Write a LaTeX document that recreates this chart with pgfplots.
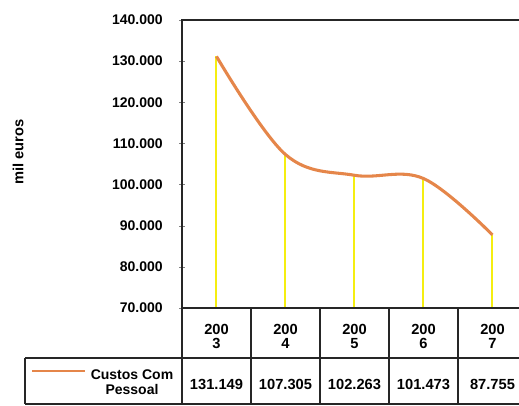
\documentclass[border=0pt]{standalone}
\usepackage{pgfplots}
\pgfplotsset{compat=1.18}
\usepackage{pgfplotstable}
\usepackage{fontspec}
\setmainfont{Liberation Sans}
\definecolor{lineorange}{HTML}{E5864A}
\definecolor{dropyellow}{HTML}{F5EE10}
\pgfplotstableread{
x y
0 131149
1 107305
2 102263
3 101473
4 87755
}\custos
\begin{document}
\begin{tikzpicture}
\useasboundingbox (0,0) rectangle (389.25pt,303.75pt);
\clip (0,0) rectangle (389.25pt,303.75pt);
\begin{axis}[
  at={(136.5pt,72.75pt)}, anchor=south west,
  scale only axis, width=258.75pt, height=216pt,
  xmin=-0.5, xmax=4.5, ymin=70000, ymax=140000,
  scaled y ticks=false,
  ytick={70000,80000,...,140000},
  yticklabels={70.000,80.000,90.000,100.000,110.000,120.000,130.000,140.000},
  yticklabel style={font=\bfseries\fontsize{10.5}{12}\selectfont, xshift=-9pt},
  xtick={0,1,2,3,4},
  xticklabels={
    {200\\3\\[20pt]131.149},
    {200\\4\\[20pt]107.305},
    {200\\5\\[20pt]102.263},
    {200\\6\\[20pt]101.473},
    {200\\7\\[20pt]87.755}},
  xticklabel style={font=\bfseries\fontsize{11}{10.5}\selectfont, align=center, anchor=north, yshift=-9pt},
  xtick style={draw=none},
  ytick align=center, major tick length=4pt,
  ytick pos=left,
  axis line style={line width=0.9pt, black!85},
  ylabel={mil euros},
  every axis y label/.style={at={(axis description cs:-0.475,0.542)}, rotate=90, anchor=center, font=\bfseries\fontsize{11}{12}\selectfont},
]
\addplot[ycomb, dropyellow, line width=1.5pt, no marks] table[x=x,y=y] {\custos};
\addplot[lineorange, line width=2.3pt, smooth, tension=0.6, no marks] table[x=x,y=y] {\custos};
\end{axis}
\begin{scope}[x=0.75pt, y=-0.75pt, shift={(0,303.75pt)}, line width=0.9pt, black!85]
  \draw (182,308) -- (519,308);
  \draw (25,358) -- (519,358);
  \draw (25,404) -- (519,404);
  \draw (25,358) -- (25,404);
  \foreach \xx in {182,251,320,389,458} \draw (\xx,308) -- (\xx,404);
  \draw[lineorange, line width=2.2pt] (32,371) -- (85,371);
  \node[align=center, font=\bfseries\fontsize{10.5}{11.5}\selectfont, text=black] at (132,382) {Custos Com\\Pessoal};
\end{scope}
\end{tikzpicture}
\end{document}
